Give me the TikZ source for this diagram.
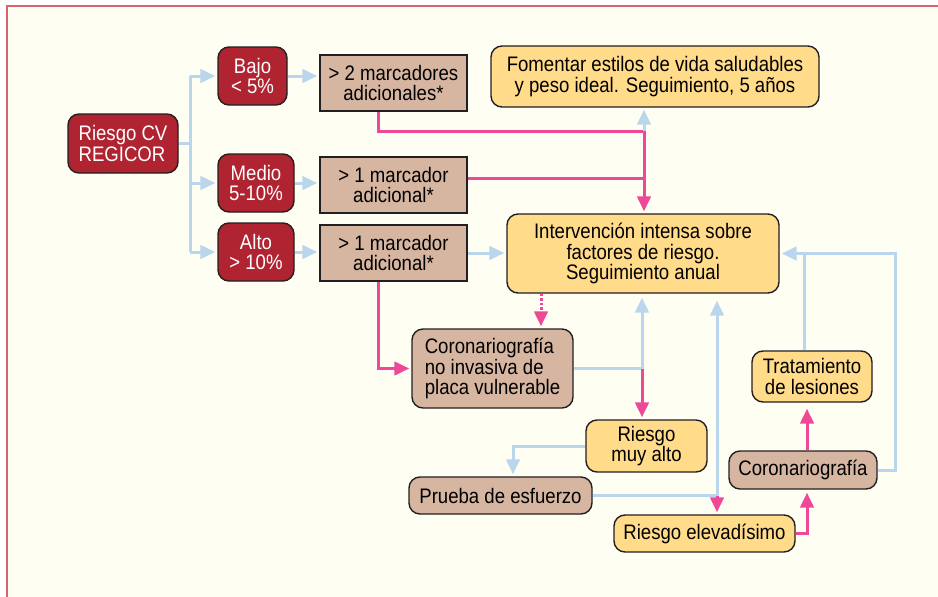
\documentclass[tikz,border=0pt]{standalone}
\usepackage{fontspec}
\setmainfont[FakeStretch=0.885]{Liberation Sans}
\usetikzlibrary{arrows.meta}
\definecolor{redc}{HTML}{B02432}
\definecolor{brownc}{HTML}{D6B5A1}
\definecolor{yelc}{HTML}{FFDB8A}
\definecolor{pinkc}{HTML}{EE4896}
\definecolor{bluec}{HTML}{BAD6EC}
\definecolor{bordc}{HTML}{231F20}
\definecolor{framec}{HTML}{D9646F}
\definecolor{bgc}{HTML}{FFFEF3}
\begin{document}
\begin{tikzpicture}[x=1pt,y=-1pt,
  mybox/.style={draw=bordc, line width=1.4pt, inner sep=0pt, align=center,
    font=\fontsize{21}{20.8}\selectfont},
  redbox/.style={mybox, fill=redc, text=white, rounded corners=11pt},
  brownsq/.style={mybox, fill=brownc},
  brownr/.style={mybox, fill=brownc, rounded corners=11pt},
  yel/.style={mybox, fill=yelc, rounded corners=11pt},
  bl/.style={draw=bluec, line width=3pt},
  ba/.style={bl, -{Triangle[length=15pt,width=13.5pt]}, shorten >=2pt},
  pk/.style={draw=pinkc, line width=3pt},
  pka/.style={pk, -{Triangle[length=15pt,width=13.5pt]}, shorten >=2pt}]
\useasboundingbox (0,0) rectangle (938,597);
\fill[white] (0,0) rectangle (938,597);
\fill[bgc] (7,6) rectangle (938,597);
\draw[framec, line width=2.2pt] (7,597) -- (7,6) -- (938,6);

% nodes
\node[redbox, minimum width=110pt, minimum height=59pt, align=left] (regicor) at (123,143.5) {Riesgo CV\\REGICOR};
\node[redbox, minimum width=69pt, minimum height=58pt] (bajo) at (252.5,76) {Bajo\\< 5\%};
\node[redbox, minimum width=76pt, minimum height=58pt] (medio) at (256,183) {Medio\\5-10\%};
\node[redbox, minimum width=76pt, minimum height=58pt] (alto) at (256,252) {Alto\\> 10\%};
\node[brownsq, minimum width=147pt, minimum height=56pt] (m2) at (393.5,83) {> 2 marcadores\\adicionales*};
\node[brownsq, minimum width=147pt, minimum height=56pt] (m1a) at (393.5,185) {> 1 marcador\\adicional*};
\node[brownsq, minimum width=147pt, minimum height=56pt] (m1b) at (393.5,253) {> 1 marcador\\adicional*};
\node[yel, minimum width=328pt, minimum height=61pt] (fom) at (655,76.5) {Fomentar estilos de vida saludables\\y peso ideal. Seguimiento, 5 años};
\node[yel, minimum width=272pt, minimum height=79pt] (interv) at (643,253.5) {Intervención intensa sobre\\factores de riesgo.\\Seguimiento anual};
\node[brownr, minimum width=161pt, minimum height=79pt, align=left] (cni) at (492.5,368.5) {Coronariografía\\no invasiva de\\placa vulnerable};
\node[yel, minimum width=121pt, minimum height=52pt] (muyalto) at (646.5,446) {Riesgo\\muy alto};
\node[brownr, minimum width=183pt, minimum height=37pt] (prueba) at (500.5,495.5) {Prueba de esfuerzo};
\node[yel, minimum width=181pt, minimum height=37pt] (elev) at (704.5,533.5) {Riesgo elevadísimo};
\node[brownr, minimum width=148pt, minimum height=38pt] (coro) at (803,470) {Coronariografía};
\node[yel, minimum width=120pt, minimum height=51pt] (trat) at (812,376.5) {Tratamiento\\de lesiones};

% helper coordinates
\coordinate (sp) at (190,0);
\coordinate (p1) at (378,0);
\coordinate (j1) at (644,131);
\coordinate (y178) at (0,178);
\coordinate (p2) at (541,0);
\coordinate (j2) at (642,0);
\coordinate (p3) at (513,0);
\coordinate (j3) at (717,0);
\coordinate (p4) at (807,0);
\coordinate (p5) at (804,0);
\coordinate (p6) at (895,0);

% blue tree from REGICOR
\draw[bl] (regicor.east) -- (regicor.east -| sp);
\draw[bl] (sp |- bajo.west) -- (sp |- alto.west);
\draw[ba] (sp |- bajo.west) -- (bajo.west);
\draw[ba] (sp |- medio.west) -- (medio.west);
\draw[ba] (sp |- alto.west) -- (alto.west);
\draw[ba] (bajo.east) -- (bajo.east -| m2.west);
\draw[ba] (medio.east) -- (medio.east -| m1a.west);
\draw[ba] (alto.east) -- (alto.east -| m1b.west);

% pink from markers to intervention
\draw[pk] (m2.south -| p1) |- (j1);
\draw[pk] (m1a.east |- y178) -- (j1 |- y178);
\draw[pka] (j1) -- (j1 |- interv.north);
\draw[ba] (j1) -- (j1 |- fom.south);
\draw[ba] (m1b.east) -- (m1b.east -| interv.west);
\draw[pka] (m1b.south -| p1) |- (cni.west);
\draw[pka, dash pattern=on 2.5pt off 2pt] (interv.south -| p2) -- (cni.north -| p2);

% lower part
\draw[bl] (cni.east) -- (cni.east -| j2);
\draw[ba, shorten >=4pt] (cni.east -| j2) -- (j2 |- interv.south);
\draw[pka] (cni.east -| j2) -- (j2 |- muyalto.north);
\draw[ba] (muyalto.west) -| (p3 |- prueba.north);
\draw[bl] (prueba.east) -- (prueba.east -| j3);
\draw[ba, shorten >=7pt] (prueba.east -| j3) -- (j3 |- interv.south);
\draw[pka] (prueba.east -| j3) -- (j3 |- elev.north);
\draw[pka, shorten >=3pt] (elev.east) -| (p4 |- coro.south);
\draw[pka, shorten >=6pt] (coro.north -| p4) -- (trat.south -| p4);
\draw[ba] (trat.north -| p5) |- (interv.east);
\draw[bl] (coro.east) -| (p6 |- interv.east) -- (p5 |- interv.east);
\end{tikzpicture}
\end{document}
